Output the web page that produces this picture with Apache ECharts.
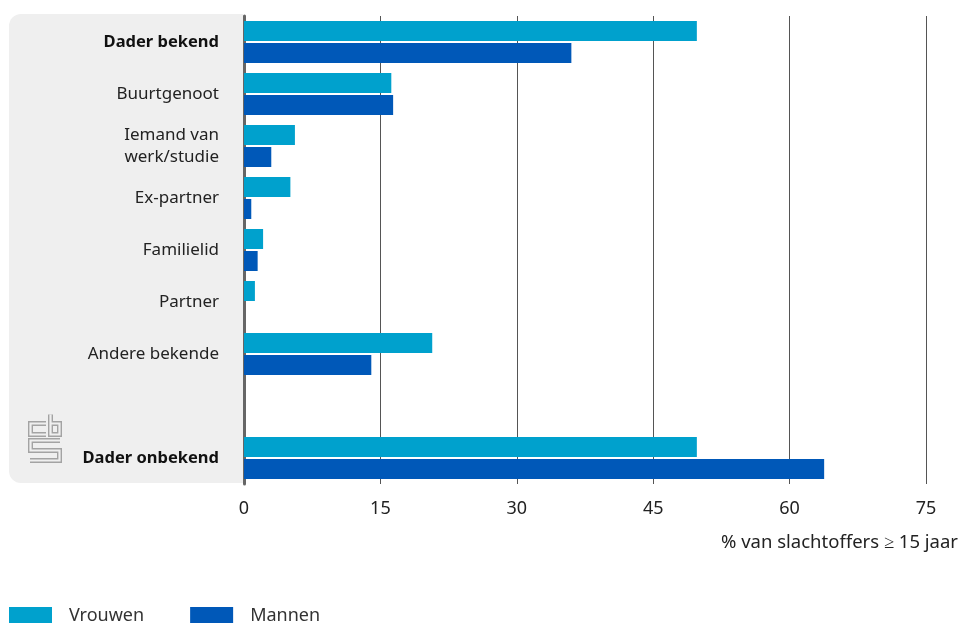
<!DOCTYPE html>
<html><head><meta charset="utf-8">
<script src="https://cdn.jsdelivr.net/npm/echarts@6/dist/echarts.min.js"></script>
<style>html,body{margin:0;padding:0;background:#fff}#c{width:959px;height:623px}</style>
</head><body><div id="c"></div>
<script>
const categories = ['Dader bekend','Buurtgenoot','Iemand van\nwerk/studie','Ex-partner','Familielid','Partner','Andere bekende','','Dader onbekend'];
const boldCats = ['Dader bekend','Dader onbekend'];
const vrouwen = [49.8, 16.2, 5.6, 5.1, 2.1, 1.2, 20.7, null, 49.8];
const mannen  = [36.0, 16.4, 3.0, 0.8, 1.5, null, 14.0, null, 63.8];
const xTicks = [0, 15, 30, 45, 60, 75];
const axisTitle = '% van slachtoffers ≥ 15 jaar';
const FONT = 'Noto Sans';

const chart = echarts.init(document.getElementById('c'), null, {renderer:'canvas'});
const logoPaths = [
  [[46,423.5],[30.5,423.5],[30.5,434.5],[46,434.5]],
  [[50.5,414.5],[50.5,434.5],[59.5,434.5],[59.5,423.5],[50.5,423.5]],
  [[60,440.5],[30.5,440.5],[30.5,450.5],[59.5,450.5],[59.5,460.5],[30,460.5]]
];
const logoEls = [];
logoPaths.forEach(p => {
  logoEls.push({type:'polyline', z:1, shape:{points:p}, style:{stroke:'#a3a3a3', lineWidth:5, fill:null, lineJoin:'miter', lineCap:'butt'}});
});
logoPaths.forEach(p => {
  logoEls.push({type:'polyline', z:2, shape:{points:p}, style:{stroke:'#efefef', lineWidth:2.2, fill:null, lineJoin:'miter', lineCap:'butt'}});
});
chart.setOption({
  animation:false,
  textStyle:{fontFamily:FONT},
  grid:{left:244, right:33, top:16, bottom:139, containLabel:false},
  legend:{
    left:9, top:607, padding:0, itemWidth:43, itemHeight:18, itemGap:46,
    icon:'rect',
    textStyle:{fontFamily:FONT, fontSize:18, color:'#333', padding:[0,0,0,12]},
    data:['Vrouwen','Mannen']
  },
  xAxis:{
    type:'value', min:0, max:75, interval:15,
    axisLine:{show:false}, axisTick:{show:false},
    splitLine:{show:true, lineStyle:{color:'#555', width:1}},
    axisLabel:{fontFamily:FONT, fontSize:18, color:'#222', margin:16}
  },
  yAxis:{
    type:'category', inverse:true, data:categories,
    axisLine:{show:true, lineStyle:{color:'#666', width:3}},
    axisTick:{show:false},
    axisLabel:{
      margin:25, fontFamily:FONT, fontSize:17, color:'#222', lineHeight:22, align:'right',
      formatter: v => boldCats.includes(v) ? '{b|' + v + '}' : v,
      rich:{b:{fontFamily:FONT, fontSize:16.5, fontWeight:'bold', color:'#111'}}
    },
    z:3
  },
  graphic:[
    {type:'rect', z:-100, shape:{x:9, y:14, width:234, height:469, r:[12,0,0,12]}, style:{fill:'#efefef'}},
    {type:'group', z:-50, children:logoEls},
    {type:'text', right:1, top:533, style:{text:axisTitle, font:'18.5px "Noto Sans"', fill:'#222'}}
  ],
  series:[
    {name:'Vrouwen', type:'bar', data:vrouwen, barWidth:20, barGap:'10%', itemStyle:{color:'#00a1cd'}, z:4},
    {name:'Mannen', type:'bar', data:mannen, barWidth:20, itemStyle:{color:'#0058b8'}, z:4}
  ]
});
</script></body></html>
